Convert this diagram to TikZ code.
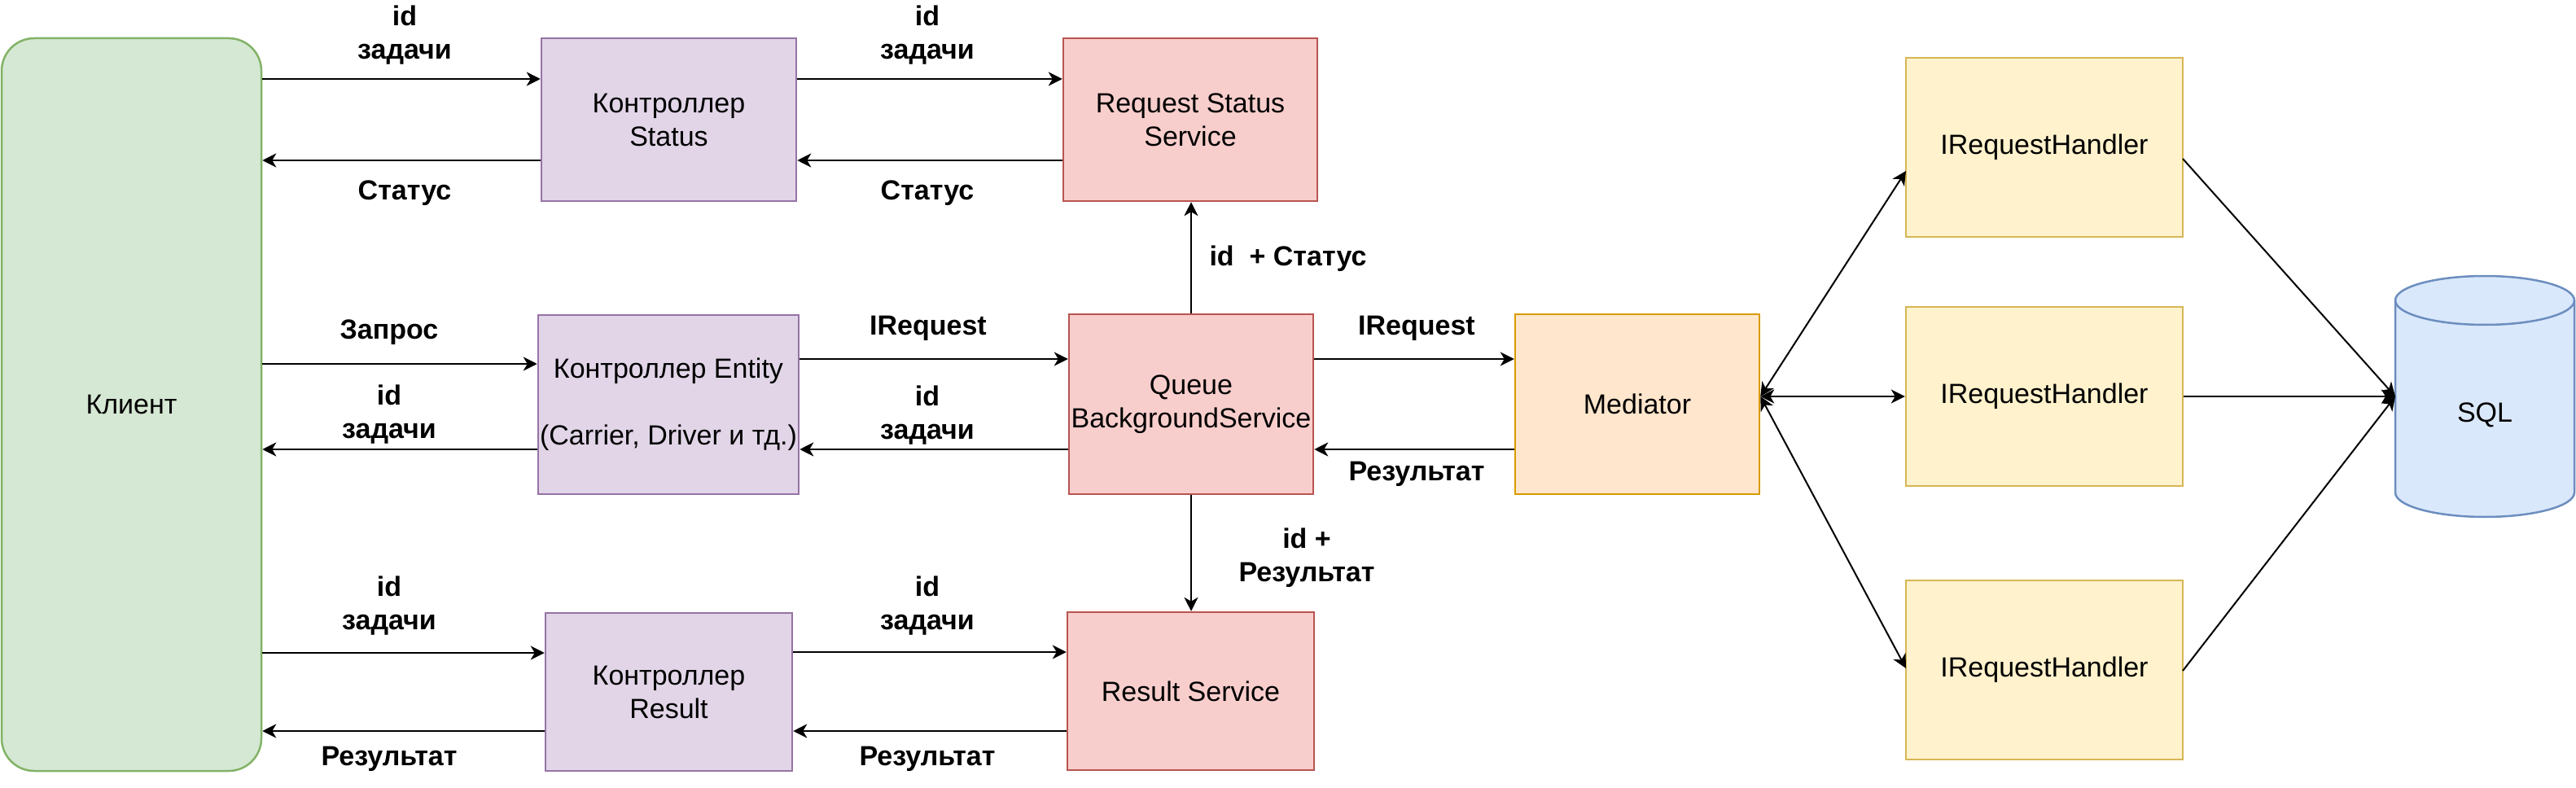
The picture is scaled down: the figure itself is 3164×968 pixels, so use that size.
\documentclass[tikz,border=0pt]{standalone}
\usepackage{fontspec}
\setmainfont{Liberation Sans}
\usetikzlibrary{arrows.meta}
\definecolor{gfill}{HTML}{D5E8D4}\definecolor{gline}{HTML}{82B366}
\definecolor{pfill}{HTML}{E1D5E7}\definecolor{pline}{HTML}{9673A6}
\definecolor{rfill}{HTML}{F8CECC}\definecolor{rline}{HTML}{B85450}
\definecolor{ofill}{HTML}{FFE6CC}\definecolor{oline}{HTML}{D79B00}
\definecolor{yfill}{HTML}{FFF2CC}\definecolor{yline}{HTML}{D6B656}
\definecolor{bfill}{HTML}{DAE8FC}\definecolor{bline}{HTML}{6C8EBF}
\begin{document}
\begin{tikzpicture}[x=1pt,y=-1pt,
  txt/.style={font=\fontsize{34}{41}\selectfont, align=center, inner sep=0pt},
  lbl/.style={txt, font=\fontsize{34}{41}\selectfont\bfseries},
  cbox/.style={txt, draw, line width=2.5pt},
  green/.style={cbox, fill=gfill, draw=gline},
  purple/.style={cbox, fill=pfill, draw=pline},
  red/.style={cbox, fill=rfill, draw=rline},
  orange/.style={cbox, fill=ofill, draw=oline},
  yellow/.style={cbox, fill=yfill, draw=yline},
  arr/.style={line width=2.5pt, -{Stealth[length=17pt,width=17pt,inset=5pt]}},
  darr/.style={line width=2pt, {Stealth[length=17pt,width=17pt,inset=5pt]}-{Stealth[length=17pt,width=17pt,inset=5pt]}},
  sarr/.style={line width=2pt, -{Stealth[length=17pt,width=17pt,inset=5pt]}}
]
\useasboundingbox (0,0) rectangle (3164,968);

% nodes
\node[green, rounded corners=40pt, minimum width=319pt, minimum height=900pt] (client) at (161.5,497) {Клиент};
\node[purple, minimum width=313pt, minimum height=200pt] (ctrlS) at (821.5,147) {Контроллер\\Status};
\node[purple, minimum width=320pt, minimum height=220pt] (ctrlE) at (821,497) {Контроллер Entity\\[41pt](Carrier, Driver и тд.)};
\node[purple, minimum width=303pt, minimum height=194pt] (ctrlR) at (821.5,850) {Контроллер\\Result};
\node[red, minimum width=312pt, minimum height=200pt] (rss) at (1462,147) {Request Status\\Service};
\node[red, minimum width=300pt, minimum height=221pt] (queue) at (1463,496.5) {Queue\\BackgroundService};
\node[red, minimum width=303pt, minimum height=194pt] (resS) at (1462.5,849) {Result Service};
\node[orange, minimum width=300pt, minimum height=221pt] (med) at (2011,496.5) {Mediator};
\node[yellow, minimum width=340pt, minimum height=220pt] (irh1) at (2511,181) {IRequestHandler};
\node[yellow, minimum width=340pt, minimum height=220pt] (irh2) at (2511,487) {IRequestHandler};
\node[yellow, minimum width=340pt, minimum height=220pt] (irh3) at (2511,823) {IRequestHandler};

% cylinder
\filldraw[fill=bfill, draw=bline, line width=2.5pt]
  (2942,369) -- (2942,605) arc[start angle=180, end angle=360, x radius=110pt, y radius=30pt]
  -- (3162,369) arc[start angle=0, end angle=180, x radius=110pt, y radius=30pt] -- cycle;
\draw[draw=bline, line width=2.5pt] (2942,369) arc[start angle=180, end angle=360, x radius=110pt, y radius=30pt];
\node[txt] (sql) at (3052,510) {SQL};

% coordinates
\coordinate (medR) at (med.east |- irh2.west);
\coordinate (h1in) at (2341,210);
\coordinate (h3in) at (2341,821);
\coordinate (h1out) at (2681,195);
\coordinate (h3out) at (2681,824);
\coordinate (sqlin) at (2942,487);

% connectors: top row
\draw[arr] (client.east |- 0,97) -- (ctrlS.west |- 0,97);
\draw[arr] (ctrlS.west |- 0,197) -- (client.east |- 0,197);
\draw[arr] (ctrlS.east |- 0,97) -- (rss.west |- 0,97);
\draw[arr] (rss.west |- 0,197) -- (ctrlS.east |- 0,197);
% middle row
\draw[arr] (client.east |- 0,447) -- (ctrlE.west |- 0,447);
\draw[arr] (ctrlE.west |- 0,552) -- (client.east |- 0,552);
\draw[arr] (ctrlE.east |- 0,441) -- (queue.west |- 0,441);
\draw[arr] (queue.west |- 0,552) -- (ctrlE.east |- 0,552);
\draw[arr] (queue.east |- 0,441) -- (med.west |- 0,441);
\draw[arr] (med.west |- 0,552) -- (queue.east |- 0,552);
% vertical
\draw[sarr] (queue.north) -- (queue.north |- rss.south);
\draw[sarr] (queue.south) -- (queue.south |- resS.north);
% bottom row
\draw[arr] (client.east |- 0,802) -- (ctrlR.west |- 0,802);
\draw[arr] (ctrlR.west |- 0,898) -- (client.east |- 0,898);
\draw[arr] (ctrlR.east |- 0,801) -- (resS.west |- 0,801);
\draw[arr] (resS.west |- 0,898) -- (ctrlR.east |- 0,898);
% mediator to handlers
\draw[darr] (medR) -- (h1in);
\draw[darr] (medR) -- (irh2.west);
\draw[darr] (medR) -- (h3in);
% handlers to SQL
\draw[sarr] (h1out) -- (sqlin);
\draw[sarr] (irh2.east) -- (sqlin);
\draw[sarr] (h3out) -- (sqlin);

% labels
\node[lbl] (l1) at (497,43) {id\\задачи};
\node[lbl] (l2) at (497,237) {Статус};
\node[lbl] (l3) at (1139,43) {id\\задачи};
\node[lbl] (l4) at (1139,237) {Статус};
\node[lbl] (l5) at (478,408) {Запрос};
\node[lbl] (l6) at (478,509) {id\\задачи};
\node[lbl] (l7) at (1140,403) {IRequest};
\node[lbl] (l8) at (1139,510) {id\\задачи};
\node[lbl] (l9) at (1740,403) {IRequest};
\node[lbl] (l10) at (1740,582) {Результат};
\node[lbl] (l11) at (1582,318) {id\ \ + Статус};
\node[lbl] (l12) at (1605,685) {id +\\Результат};
\node[lbl] (l13) at (478,744) {id\\задачи};
\node[lbl] (l14) at (478,932) {Результат};
\node[lbl] (l15) at (1139,744) {id\\задачи};
\node[lbl] (l16) at (1139,932) {Результат};
\end{tikzpicture}
\end{document}
